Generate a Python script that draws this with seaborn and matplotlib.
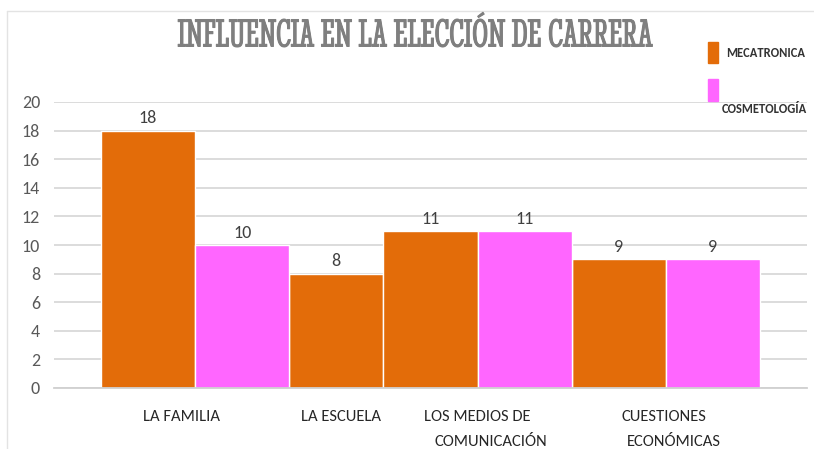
import matplotlib
matplotlib.use('Agg')
import matplotlib.pyplot as plt
from matplotlib import font_manager
from matplotlib.font_manager import FontProperties
from matplotlib.patches import Rectangle
from matplotlib.lines import Line2D
import matplotlib.patheffects as pe
import pandas as pd
import seaborn as sns

categorias = ['LA FAMILIA', 'LA ESCUELA', 'LOS MEDIOS DE\nCOMUNICACIÓN', 'CUESTIONES\nECONÓMICAS']
mecatronica = [18, 8, 11, 9]
cosmetologia = [10, None, 11, 9]
series = ['MECATRONICA', 'COSMETOLOGÍA']
yticks = list(range(0, 21, 2))

colores = {'MECATRONICA': '#E36C09', 'COSMETOLOGÍA': '#FF66FF'}


def pick_font(candidates, default='DejaVu Sans'):
    names = {f.name for f in font_manager.fontManager.ttflist}
    for c in candidates:
        if c in names:
            return c
    return default


def title_font():
    # serif muy estrecha para el titulo
    fl = font_manager.fontManager.ttflist
    for n in ['Stint Ultra Condensed', 'Caladea']:
        opts = [f for f in fl if f.name == n]
        if opts:
            return FontProperties(fname=opts[0].fname), n
    return FontProperties(family='DejaVu Serif', weight='bold'), 'DejaVu Serif'


sns.set_theme(style='white')
font_txt = pick_font(['Carlito', 'PT Sans Narrow', 'Roboto'])
plt.rcParams['font.family'] = [font_txt, 'DejaVu Sans']

# las barras van seguidas, una ranura por barra
filas = []
slot = 0
for cat, m, c in zip(categorias, mecatronica, cosmetologia):
    for serie, v in zip(series, [m, c]):
        if v is None:
            continue
        filas.append({'slot': slot, 'categoria': cat, 'serie': serie, 'valor': v})
        slot += 1
df = pd.DataFrame(filas)

fig = plt.figure(figsize=(8.14, 4.49), dpi=100)
ax = fig.add_axes([54 / 814, 1 - 388 / 449, (807 - 54) / 814, (388 - 102) / 449])

sns.barplot(data=df, x='slot', y='valor', hue='serie', palette=colores, dodge=False,
            width=1.0, order=list(range(len(df))), hue_order=series, ax=ax,
            saturation=1, legend=False)

for cont in ax.containers:
    ax.bar_label(cont, padding=3, fontsize=13, color='#404040')

ax.set_xlim(-1, 7)
ax.set_ylim(0, 20)
ax.set_yticks(yticks)
ax.set_yticklabels([str(t) for t in yticks], fontsize=13, color='#595959')
ax.tick_params(axis='y', length=0, pad=10)
ax.set_xticks([])
ax.set_xlabel('')
ax.set_ylabel('')
ax.grid(axis='y', color='#d9d9d9', linewidth=1.3)
ax.set_axisbelow(True)
for s in ['left', 'right', 'top']:
    ax.spines[s].set_visible(False)
ax.spines['bottom'].set_color('#d0d0d0')
ax.spines['bottom'].set_linewidth(1.3)

# etiquetas del eje x (cada linea con su propio centro)
pos_lineas = [[0.35], [2.05], [3.5, 3.64], [5.48, 5.59]]
for cat, pos in zip(categorias, pos_lineas):
    for i, (linea, x) in enumerate(zip(cat.split('\n'), pos)):
        ax.text(x, -0.1 - i * 0.09, linea, transform=ax.get_xaxis_transform(), ha='center', va='center',
                fontsize=12, color='#262626')

fp, nombre = title_font()
fp.set_size(24)
titulo = fig.text(415 / 814, 1 - 37 / 449, 'INFLUENCIA EN LA ELECCIÓN DE CARRERA', ha='center', va='center',
                  color='#7f7f7f', fontproperties=fp)
# ajustar el tamaño para que ocupe el mismo ancho que en la imagen
r = fig.canvas.get_renderer()
ancho = titulo.get_window_extent(r).width
titulo.set_fontsize(min(24 * 550 / ancho, 29))
if nombre == 'Stint Ultra Condensed':
    # engrosar un poco los trazos, la fuente no tiene negrita
    titulo.set_path_effects([pe.withStroke(linewidth=0.7, foreground='#7f7f7f')])

# leyenda
fig.patches.append(Rectangle((708 / 814, 1 - 63 / 449), 10 / 814, 21 / 449,
                             transform=fig.transFigure, color=colores['MECATRONICA'], figure=fig))
fig.patches.append(Rectangle((708 / 814, 1 - 101 / 449), 10 / 814, 22 / 449,
                             transform=fig.transFigure, color=colores['COSMETOLOGÍA'], figure=fig))
fig.text(726 / 814, 1 - 53 / 449, 'MECATRONICA', fontsize=9, fontweight='bold', color='#333333',
         va='center', ha='left')
fig.text(722 / 814, 1 - 109 / 449, 'COSMETOLOGÍA', fontsize=9, fontweight='bold', color='#333333',
         va='center', ha='left')

# borde de la captura
fig.lines.append(Line2D([7 / 814, 1], [1 - 11 / 449, 1 - 11 / 449], transform=fig.transFigure,
                        color='#e3e3e3', linewidth=1))
fig.lines.append(Line2D([7 / 814, 7 / 814], [0, 1 - 11 / 449], transform=fig.transFigure,
                        color='#e3e3e3', linewidth=1))

fig.savefig('out.png', dpi=100)
